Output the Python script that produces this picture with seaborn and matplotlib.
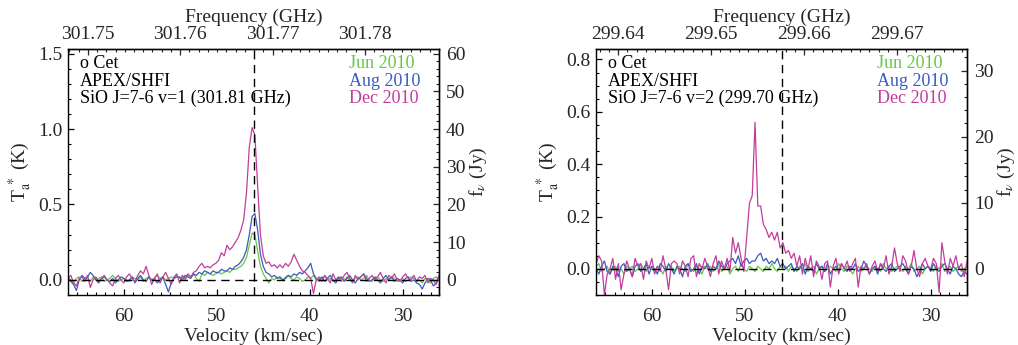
import numpy as np
import pandas as pd
import matplotlib
matplotlib.use("Agg")
import matplotlib.pyplot as plt
import seaborn as sns
from matplotlib.ticker import MultipleLocator, FormatStrFormatter

# ---------------- data ----------------
V_START = 66.0      # km/s, first channel
V_STEP = 0.3        # km/s channel width
N_CHAN = 134
velocity = V_START - V_STEP * np.arange(N_CHAN)

epochs = ["Jun 2010", "Aug 2010", "Dec 2010"]
epoch_colors = ["#66c846", "#3b5bbd", "#c23d9d"]

# SiO J=7-6 v=1 (301.81 GHz)
v1_jun = [0.01, 0.00, -0.02, 0.01, 0.02, -0.01, 0.00, 0.01, -0.01, 0.02,
          0.00, 0.01, 0.02, -0.01, 0.00, 0.01, 0.03, 0.01, -0.01, 0.00,
          0.01, 0.00, -0.01, 0.02, 0.01, 0.00, 0.02, -0.01, 0.01, 0.02,
          0.00, 0.01, 0.03, 0.01, 0.02, 0.00, 0.01, 0.02, 0.01, 0.03,
          0.01, 0.02, 0.00, 0.03, 0.02, 0.04, 0.01, -0.01, 0.04, 0.03,
          0.05, 0.04, 0.03, 0.04, 0.05, 0.04, 0.05, 0.06, 0.05, 0.07,
          0.07, 0.08, 0.09, 0.11, 0.15, 0.23, 0.31, 0.30, 0.19, 0.09,
          0.04, 0.01, -0.02, 0.01, 0.00, 0.02, 0.01, 0.00, 0.02, 0.03,
          0.01, 0.00, 0.02, 0.01, -0.01, 0.00, 0.02, 0.01, 0.03, 0.00,
          -0.01, 0.01, 0.02, 0.00, 0.01, -0.01, 0.00, 0.02, 0.01, 0.00,
          0.02, 0.00, -0.01, 0.01, 0.02, 0.00, 0.01, 0.03, 0.00, -0.01,
          0.01, 0.02, 0.00, -0.01, 0.01, 0.00, 0.02, 0.01, -0.01, 0.00,
          0.01, -0.01, 0.00, 0.02, 0.01, -0.01, 0.00, -0.02, 0.01, 0.00,
          -0.02, 0.01, 0.02, 0.00]
v1_aug = [0.02, -0.01, -0.03, -0.07, 0.00, 0.03, 0.01, 0.02, 0.05, 0.03,
          0.00, -0.02, 0.01, 0.02, 0.00, -0.01, 0.01, -0.02, 0.00, 0.02,
          0.01, -0.01, 0.00, 0.02, -0.02, 0.01, 0.03, 0.00, -0.01, 0.02,
          0.00, 0.01, -0.02, 0.00, 0.02, -0.03, -0.08, -0.02, 0.01, 0.02,
          0.02, 0.00, 0.03, 0.02, 0.01, 0.04, 0.03, 0.05, 0.04, 0.06,
          0.05, 0.04, 0.06, 0.05, 0.05, 0.07, 0.06, 0.06, 0.08, 0.07,
          0.09, 0.10, 0.12, 0.15, 0.20, 0.30, 0.42, 0.44, 0.33, 0.17,
          0.09, 0.05, 0.04, 0.02, 0.03, 0.01, 0.02, 0.00, 0.01, 0.03,
          0.02, 0.04, 0.03, 0.05, 0.04, 0.06, 0.08, 0.11, 0.04, 0.01,
          0.00, 0.02, -0.01, 0.01, 0.03, 0.00, -0.02, 0.01, 0.02, -0.01,
          0.01, 0.03, 0.00, -0.02, 0.01, 0.02, 0.04, 0.01, -0.01, 0.00,
          0.02, 0.00, -0.02, 0.01, 0.03, 0.00, 0.02, -0.01, 0.01, 0.00,
          -0.02, 0.01, 0.02, -0.01, 0.00, -0.02, -0.03, -0.06, -0.02, 0.01,
          0.00, -0.04, -0.02, 0.03]
v1_dec = [0.01, 0.03, -0.02, -0.04, 0.01, 0.02, -0.01, 0.03, -0.05, 0.00,
          0.02, -0.01, 0.01, 0.03, 0.00, -0.02, -0.04, 0.01, 0.03, 0.00,
          -0.02, 0.02, 0.04, 0.01, -0.01, 0.03, 0.06, 0.04, 0.09, 0.03,
          -0.03, 0.01, 0.04, -0.02, 0.02, 0.05, 0.01, -0.03, 0.02, 0.04,
          -0.02, 0.03, 0.01, 0.04, 0.02, 0.05, 0.06, 0.09, 0.11, 0.08,
          0.09, 0.08, 0.10, 0.11, 0.13, 0.18, 0.16, 0.23, 0.20, 0.22,
          0.25, 0.28, 0.33, 0.40, 0.58, 0.88, 1.01, 0.96, 0.62, 0.30,
          0.16, 0.11, 0.12, 0.09, 0.10, 0.08, 0.10, 0.08, 0.11, 0.09,
          0.12, 0.17, 0.13, 0.09, 0.06, 0.05, 0.03, 0.01, -0.09, 0.00,
          0.02, -0.01, 0.03, 0.01, -0.02, 0.04, 0.00, 0.02, -0.01, 0.03,
          0.05, 0.01, -0.02, 0.03, 0.00, 0.02, 0.04, -0.01, 0.01, 0.03,
          0.00, 0.02, 0.05, 0.01, -0.02, 0.03, 0.01, 0.04, 0.00, -0.01,
          0.02, 0.04, 0.01, 0.00, 0.03, -0.01, 0.02, 0.01, 0.03, -0.02,
          0.01, 0.00, -0.03, 0.02]

# SiO J=7-6 v=2 (299.70 GHz)
v2_jun = [0.01, 0.02, -0.01, 0.00, 0.01, -0.02, 0.00, 0.01, -0.01, 0.00,
          -0.02, 0.01, 0.00, 0.01, -0.01, 0.00, 0.02, 0.00, -0.01, 0.01,
          0.00, -0.01, 0.01, 0.00, -0.02, 0.01, 0.00, 0.01, -0.01, 0.00,
          0.01, 0.00, -0.01, 0.02, 0.00, -0.01, 0.01, 0.00, -0.02, 0.01,
          0.00, 0.01, -0.01, 0.00, 0.02, -0.01, 0.00, 0.01, -0.02, 0.00,
          0.01, -0.01, 0.02, 0.00, -0.01, 0.01, 0.00, -0.01, 0.01, 0.00,
          -0.01, 0.01, 0.00, 0.02, 0.00, -0.01, 0.01, 0.00, 0.01, -0.01,
          0.01, 0.00, -0.01, 0.01, 0.00, 0.02, -0.01, 0.00, 0.01, -0.02,
          0.00, 0.01, -0.01, 0.00, 0.01, 0.00, -0.01, 0.02, 0.00, -0.01,
          0.01, 0.00, -0.02, 0.00, 0.01, -0.01, 0.00, 0.01, 0.00, -0.01,
          0.01, 0.00, -0.01, 0.02, 0.00, 0.01, -0.01, 0.00, 0.01, 0.00,
          -0.01, 0.01, 0.00, 0.02, -0.01, 0.00, 0.01, -0.02, 0.00, 0.01,
          0.00, -0.01, 0.01, 0.00, 0.02, -0.01, 0.00, 0.01, -0.01, 0.00,
          0.01, -0.01, 0.00, 0.01]
v2_aug = [0.00, -0.02, 0.01, 0.03, -0.01, -0.02, 0.01, 0.00, -0.03, 0.01,
          0.02, -0.01, 0.00, -0.03, 0.01, 0.02, -0.01, 0.00, 0.02, -0.02,
          0.01, 0.00, -0.02, 0.02, 0.01, -0.01, 0.02, 0.00, -0.02, 0.01,
          0.00, -0.03, 0.01, 0.02, -0.01, 0.00, 0.02, -0.02, 0.01, 0.00,
          0.02, -0.01, 0.01, 0.00, 0.03, 0.01, 0.00, 0.02, 0.03, 0.04,
          0.02, 0.05, 0.01, 0.03, 0.04, 0.02, 0.03, 0.03, 0.05, 0.06,
          0.03, 0.04, 0.02, 0.03, 0.02, 0.04, 0.01, 0.02, 0.00, 0.01,
          0.02, -0.01, 0.01, 0.00, 0.02, -0.02, 0.01, 0.00, -0.01, 0.02,
          0.00, 0.01, -0.01, 0.02, -0.02, 0.00, 0.01, -0.01, 0.02, 0.00,
          -0.01, 0.01, 0.00, 0.02, -0.01, 0.00, 0.03, 0.01, -0.02, 0.00,
          0.01, -0.02, 0.02, 0.00, -0.01, 0.01, 0.02, -0.01, 0.00, 0.01,
          0.02, 0.00, -0.02, 0.01, 0.00, -0.03, -0.01, 0.02, 0.00, 0.01,
          -0.01, 0.02, 0.00, -0.01, 0.01, 0.02, 0.00, -0.02, 0.01, 0.00,
          -0.02, -0.03, -0.01, -0.02]
v2_dec = [0.02, 0.05, 0.03, -0.10, -0.02, 0.00, 0.04, -0.04, 0.02, -0.08,
          -0.02, 0.03, 0.00, -0.03, 0.04, 0.01, 0.02, -0.04, 0.03, 0.00,
          0.04, -0.02, 0.01, -0.01, 0.05, 0.00, -0.08, 0.02, 0.03, 0.02,
          -0.02, 0.03, 0.01, -0.03, 0.04, 0.05, -0.03, 0.02, 0.00, 0.04,
          0.01, -0.03, 0.02, 0.05, -0.02, 0.03, 0.00, 0.04, -0.01, 0.12,
          0.06, 0.10, 0.04, -0.01, 0.12, 0.25, 0.28, 0.56, 0.24, 0.24,
          0.17, 0.15, 0.12, 0.14, 0.11, 0.14, 0.08, 0.10, 0.06, 0.07,
          0.04, 0.06, 0.01, 0.05, -0.02, 0.04, 0.00, 0.05, -0.03, 0.03,
          0.01, -0.04, 0.02, 0.03, -0.07, 0.01, 0.04, -0.02, 0.02, 0.00,
          0.03, -0.01, 0.02, 0.04, -0.07, 0.01, 0.00, 0.02, -0.02, 0.01,
          0.03, -0.01, 0.02, 0.00, 0.05, -0.02, 0.01, 0.08, 0.02, -0.01,
          0.05, 0.03, -0.02, 0.01, 0.07, 0.00, -0.03, 0.02, 0.04, 0.01,
          0.00, 0.04, 0.02, -0.09, 0.10, 0.03, -0.02, 0.04, 0.01, 0.05,
          0.00, 0.02, -0.03, 0.03]

panel_lines = [["o Cet", "APEX/SHFI", "SiO J=7-6 v=1 (301.81 GHz)"],
               ["o Cet", "APEX/SHFI", "SiO J=7-6 v=2 (299.70 GHz)"]]
rest_freq = [301.8143, 299.7036]      # GHz
jy_per_k = [40.0, 39.6]
v_star = 46.0                           # km/s
C_KMS = 299792.458

for arr in (v1_jun, v1_aug, v1_dec, v2_jun, v2_aug, v2_dec):
    assert len(arr) == N_CHAN, len(arr)

# ---------------- style ----------------
sns.set_style("ticks")
plt.rcParams["font.family"] = ["Liberation Serif", "DejaVu Serif"]
plt.rcParams["mathtext.fontset"] = "stix"
plt.rcParams["axes.linewidth"] = 1.0

fig = plt.figure(figsize=(10.18, 3.45), dpi=100)
ax_l = fig.add_axes([0.0668, 0.1449, 0.3644, 0.7130])
ax_r = fig.add_axes([0.5855, 0.1449, 0.3644, 0.7130])

panels = [
    (ax_l, [v1_jun, v1_aug, v1_dec], (-0.1, 1.53), 0.5, 0.1, "%.1f", 10, 2),
    (ax_r, [v2_jun, v2_aug, v2_dec], (-0.1, 0.84), 0.2, 0.05, "%.1f", 10, 2),
]

FS = 14
MAJ, MIN = 4.5, 2.3
for k, (ax, series, ylim, ymaj, ymin, yfmt, fmaj, fmin) in enumerate(panels):
    df = pd.concat([pd.DataFrame({"v": velocity, "T": s, "epoch": e})
                    for s, e in zip(series, epochs)], ignore_index=True)
    sns.lineplot(data=df, x="v", y="T", hue="epoch", hue_order=epochs,
                 palette=epoch_colors, estimator=None, sort=False,
                 legend=False, linewidth=0.9, ax=ax)
    ax.axhline(0.0, color="black", lw=1.0, ls=(0, (6, 4)), zorder=5)
    ax.axvline(v_star, color="black", lw=1.0, ls=(0, (6, 4)), zorder=5)

    ax.set_xlim(66.0, 26.1)
    ax.set_ylim(*ylim)
    ax.xaxis.set_major_locator(MultipleLocator(10))
    ax.xaxis.set_minor_locator(MultipleLocator(1))
    ax.yaxis.set_major_locator(MultipleLocator(ymaj))
    ax.yaxis.set_minor_locator(MultipleLocator(ymin))
    ax.yaxis.set_major_formatter(FormatStrFormatter(yfmt))
    ax.xaxis.set_major_formatter(FormatStrFormatter("%d"))
    ax.tick_params(which="both", direction="in", top=False, right=False,
                   labelsize=FS, color="black")
    ax.tick_params(which="major", length=MAJ, width=0.9)
    ax.tick_params(which="minor", length=MIN, width=0.8)
    ax.tick_params(axis="x", which="major", pad=9)
    ax.tick_params(axis="y", which="major", pad=4)
    ax.set_xlabel("Velocity (km/sec)", fontsize=FS, labelpad=2)
    ax.set_ylabel(r"T$^{\ *}_{\rm a}$ (K)", fontsize=FS, labelpad=3)
    for sp in ax.spines.values():
        sp.set_color("black")

    f0 = rest_freq[k]
    fwd = lambda v, f0=f0: f0 * (1.0 - np.asarray(v) / C_KMS)
    inv = lambda f, f0=f0: C_KMS * (1.0 - np.asarray(f) / f0)
    sx = ax.secondary_xaxis("top", functions=(fwd, inv))
    sx.xaxis.set_major_locator(MultipleLocator(0.01))
    sx.xaxis.set_minor_locator(MultipleLocator(0.001))
    sx.xaxis.set_major_formatter(FormatStrFormatter("%.2f"))
    sx.tick_params(which="both", direction="in", labelsize=FS)
    sx.tick_params(which="major", length=MAJ, width=0.9, pad=4)
    sx.tick_params(which="minor", length=MIN, width=0.8)
    sx.set_xlabel("Frequency (GHz)", fontsize=FS, labelpad=3)

    s = jy_per_k[k]
    sy = ax.secondary_yaxis("right", functions=(lambda t, s=s: np.asarray(t) * s,
                                                lambda f, s=s: np.asarray(f) / s))
    sy.yaxis.set_major_locator(MultipleLocator(fmaj))
    sy.yaxis.set_minor_locator(MultipleLocator(fmin))
    sy.yaxis.set_major_formatter(FormatStrFormatter("%d"))
    sy.tick_params(which="both", direction="in", labelsize=FS)
    sy.tick_params(which="major", length=MAJ, width=0.9, pad=5)
    sy.tick_params(which="minor", length=MIN, width=0.8)
    sy.set_ylabel(r"f$_{\nu}$ (Jy)", fontsize=FS, labelpad=2)

    for j, txt in enumerate(panel_lines[k]):
        ax.text(0.033, 0.942 - 0.072 * j, txt, transform=ax.transAxes,
                fontsize=13, ha="left", va="center", color="black")
    for j, (e, c) in enumerate(zip(epochs, epoch_colors)):
        ax.text(0.758, 0.942 - 0.072 * j, e, transform=ax.transAxes,
                fontsize=13, ha="left", va="center", color=c)

fig.savefig("out.png", dpi=100)
